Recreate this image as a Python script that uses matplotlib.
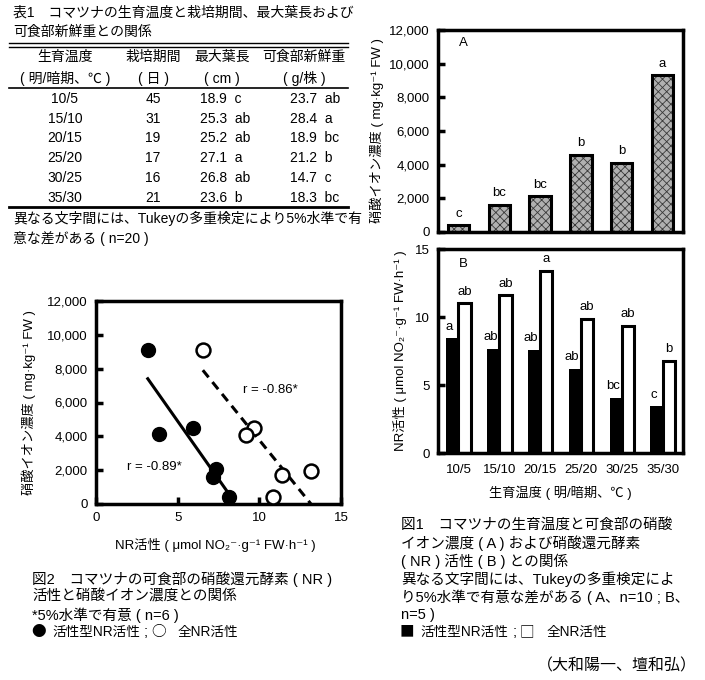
import numpy as np
import matplotlib
matplotlib.use('Agg')
import matplotlib.pyplot as plt
from matplotlib.lines import Line2D
from matplotlib.ticker import FuncFormatter

plt.rcParams['font.family'] = ['Liberation Sans', 'Noto Sans CJK JP', 'DejaVu Sans']
plt.rcParams['hatch.linewidth'] = 0.6

# 表1
temps = ['10/5', '15/10', '20/15', '25/20', '30/25', '35/30']
days = [45, 31, 19, 17, 16, 21]
leaf_len = [18.9, 25.3, 25.2, 27.1, 26.8, 23.6]
leaf_sig = ['c', 'ab', 'ab', 'a', 'ab', 'b']
fresh_wt = [23.7, 28.4, 18.9, 21.2, 14.7, 18.3]
fresh_sig = ['ab', 'a', 'bc', 'b', 'c', 'bc']

# 図1A 硝酸イオン濃度
nitrate = [400, 1620, 2110, 4580, 4110, 9300]
nitrate_sig = ['c', 'bc', 'bc', 'b', 'b', 'a']

# 図1B NR活性
nr_active = [8.45, 7.65, 7.6, 6.2, 4.05, 3.45]
nr_active_sig = ['a', 'ab', 'ab', 'ab', 'bc', 'c']
nr_total = [11.0, 11.6, 13.4, 9.85, 9.35, 6.8]
nr_total_sig = ['ab', 'ab', 'a', 'ab', 'ab', 'b']

# 図2
sc_active_x = [8.14, 7.16, 7.32, 5.91, 3.84, 3.17]
sc_active_y = [430, 1610, 2050, 4500, 4110, 9090]
sc_total_x = [10.84, 11.39, 13.15, 9.65, 9.18, 6.54]
sc_total_y = [430, 1710, 1970, 4500, 4070, 9090]

W, H = 705, 680
fig = plt.figure(figsize=(W / 100, H / 100), dpi=100)
CJK = ['Noto Sans CJK JP', 'DejaVu Sans']


def rect(x0, y0, x1, y1):
    return [x0 / W, 1 - y1 / H, (x1 - x0) / W, (y1 - y0) / H]


def ftext(x, y, s, **kw):
    kw.setdefault('fontsize', 10)
    kw.setdefault('va', 'center')
    fig.text(x / W, 1 - y / H, s, **kw)


def hline(y, x0, x1, lw):
    fig.add_artist(Line2D([x0 / W, x1 / W], [1 - y / H, 1 - y / H],
                          color='black', lw=lw))


def style(ax, bottom_ticks):
    for s in ax.spines.values():
        s.set_linewidth(2.5)
    ax.tick_params(direction='in', width=2.5, length=5, labelsize=9.5, pad=6)
    if not bottom_ticks:
        ax.tick_params(axis='x', length=0, pad=8)


comma = FuncFormatter(lambda v, p: f'{int(v):,}')

# ---- 表1 ----
ftext(13, 13, '表1　コマツナの生育温度と栽培期間、最大葉長および')
ftext(13, 32, '可食部新鮮重との関係')
hline(43, 9, 348, 1.0)
hline(46.5, 9, 348, 1.0)
hline(88, 9, 348, 1.2)
hline(207, 9, 348, 2.0)
heads = [(65, '生育温度', '( 明/暗期、℃ )'), (153, '栽培期間', '( 日 )'),
         (222, '最大葉長', '( cm )'), (304, '可食部新鮮重', '( g/株 )')]
for cx, h1, h2 in heads:
    ftext(cx, 57, h1, ha='center')
    ftext(cx, 79, h2, ha='center')
row_y = [99, 119, 138, 158, 178, 198]
for i, ry in enumerate(row_y):
    ftext(65, ry, temps[i], ha='center')
    ftext(153, ry, str(days[i]), ha='center')
    ftext(200, ry, f'{leaf_len[i]:.1f}  {leaf_sig[i]}', ha='left')
    ftext(290, ry, f'{fresh_wt[i]:.1f}  {fresh_sig[i]}', ha='left')
ftext(13, 218, '異なる文字間には、Tukeyの多重検定により5%水準で有')
ftext(13, 238, '意な差がある ( n=20 )')

x = np.arange(len(temps))

# ---- 図1A ----
axA = fig.add_axes(rect(438, 30, 683, 232))
axA.bar(x, nitrate, width=0.52, color='#b0b0b0', edgecolor='#383838',
        hatch='xxxx', linewidth=0)
axA.bar(x, nitrate, width=0.52, fill=False, edgecolor='black', linewidth=2.2)
for xi, v, s in zip(x, nitrate, nitrate_sig):
    axA.annotate(s, (xi, v), xytext=(0, 4), textcoords='offset points',
                 ha='center', va='bottom', fontsize=9.5)
axA.set_xlim(-0.5, 5.5)
axA.set_ylim(0, 12000)
axA.set_yticks(range(0, 12001, 2000))
axA.yaxis.set_major_formatter(comma)
axA.set_xticks([])
style(axA, False)
axA.text(0.102, 0.936, 'A', transform=axA.transAxes, ha='center', va='center',
         fontsize=9.5)
ftext(377, 131, '硝酸イオン濃度 ( mg·kg⁻¹ FW )', rotation=90, ha='center',
      fontsize=9.5)

# ---- 図1B ----
axB = fig.add_axes(rect(438, 249, 683, 453))
w = 0.3
axB.bar(x - w / 2, nr_active, width=w, color='black', linewidth=0)
axB.bar(x + w / 2, nr_total, width=w, color='white', edgecolor='black',
        linewidth=2.2)
for xi, v, s in zip(x, nr_active, nr_active_sig):
    axB.annotate(s, (xi - w / 2, v), xytext=(-2, 4), textcoords='offset points',
                 ha='center', va='bottom', fontsize=9.5)
for xi, v, s in zip(x, nr_total, nr_total_sig):
    axB.annotate(s, (xi + w / 2, v), xytext=(0, 4), textcoords='offset points',
                 ha='center', va='bottom', fontsize=9.5)
axB.set_xlim(-0.5, 5.5)
axB.set_ylim(0, 15)
axB.set_yticks([0, 5, 10, 15])
axB.set_xticks(x, temps)
style(axB, False)
axB.text(0.102, 0.926, 'B', transform=axB.transAxes, ha='center', va='center',
         fontsize=9.5)
ftext(400, 351, 'NR活性 ( μmol NO₂⁻·g⁻¹ FW·h⁻¹ )', rotation=90, ha='center',
      fontsize=9.5)
ftext(560, 493, '生育温度 ( 明/暗期、℃ )', ha='center', fontsize=9.5)

# ---- 図2 ----
axS = fig.add_axes(rect(96, 301, 341, 504))
for xs, ys, ls in [(sc_active_x, sc_active_y, '-'), (sc_total_x, sc_total_y, '--')]:
    k, b = np.polyfit(xs, ys, 1)
    xr = np.array([min(xs), max(xs)])
    line, = axS.plot(xr, k * xr + b, ls, color='black', lw=2.2, zorder=2)
    if ls == '--':
        line.set_dashes((3, 2))
axS.plot(sc_active_x, sc_active_y, 'o', ms=10, color='black', zorder=3)
axS.plot(sc_total_x, sc_total_y, 'o', ms=10, mfc='white', mec='black',
         mew=1.8, zorder=3)
axS.set_xlim(0, 15)
axS.set_ylim(0, 12000)
axS.set_xticks([0, 5, 10, 15])
axS.set_yticks(range(0, 12001, 2000))
axS.yaxis.set_major_formatter(comma)
style(axS, True)
axS.text(0.6, 0.562, 'r = -0.86*', transform=axS.transAxes, ha='left',
         va='center', fontsize=9.5)
axS.text(0.127, 0.182, 'r = -0.89*', transform=axS.transAxes, ha='left',
         va='center', fontsize=9.5)
ftext(29, 403, '硝酸イオン濃度 ( mg·kg⁻¹ FW )', rotation=90, ha='center',
      fontsize=9.5)
ftext(215, 545, 'NR活性 ( μmol NO₂⁻·g⁻¹ FW·h⁻¹ )', ha='center', fontsize=9.5)

# ---- captions ----
CS = 10.5
cap2 = ['図2　コマツナの可食部の硝酸還元酵素 ( NR )',
        '活性と硝酸イオン濃度との関係',
        '*5%水準で有意 ( n=6 )']
for yy, s in zip([579, 597, 615], cap2):
    ftext(32, yy, s, fontsize=CS)
ftext(31, 632, '●', family=CJK, fontsize=CS)
ftext(52, 632, '活性型NR活性', fontsize=9.8)
ftext(144, 632, ';', fontsize=CS)
ftext(151, 632, '○', family=CJK, fontsize=CS)
ftext(178, 632, '全NR活性', fontsize=9.8)

cap1 = ['図1　コマツナの生育温度と可食部の硝酸',
        'イオン濃度 ( A ) および硝酸還元酵素',
        '( NR ) 活性 ( B ) との関係',
        '異なる文字間には、Tukeyの多重検定によ',
        'り5%水準で有意な差がある ( A、n=10 ; B、',
        'n=5 )']
for yy, s in zip([525, 543, 561, 579, 597, 615], cap1):
    ftext(401, yy, s, fontsize=CS)
ftext(400, 632, '■', family=CJK, fontsize=CS)
ftext(420, 632, '活性型NR活性', fontsize=9.8)
ftext(513, 632, ';', fontsize=CS)
ftext(520, 632, '□', family=CJK, fontsize=CS)
ftext(547, 632, '全NR活性', fontsize=9.8)
ftext(697, 666, '（大和陽一、壇和弘）', ha='right', fontsize=11.5)

fig.savefig('out.png', dpi=100)
